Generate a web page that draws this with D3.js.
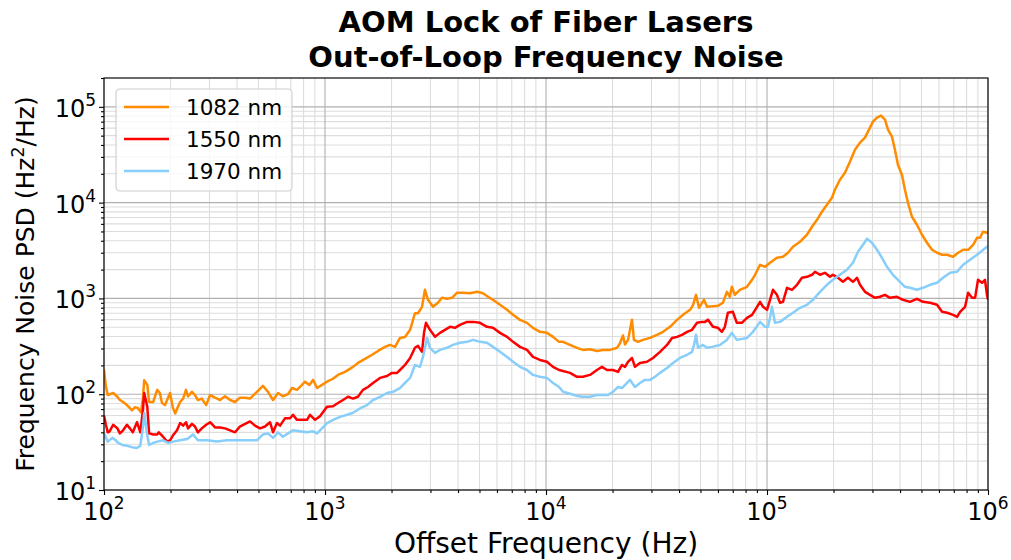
<!DOCTYPE html>
<html>
<head>
<meta charset="utf-8">
<script src="https://cdn.jsdelivr.net/npm/d3@7"></script>
<style>
  body { margin: 0; background: #fff; }
  svg { display: block; font-family: "DejaVu Sans", sans-serif; }
</style>
</head>
<body>
<svg id="chart" width="1011" height="560"></svg>
<script>
// Out-of-loop frequency noise PSD, [offset frequency (Hz), PSD (Hz^2/Hz)]
const series1082 = [
  [100, 180], [102, 120], [104, 98], [110, 103], [115, 94], [118, 87], [122, 83], [127, 77],
  [134, 68], [138, 73], [142, 72], [147, 65], [150, 90], [152, 140], [157, 125], [160, 83],
  [167, 83], [174, 111], [179, 103], [183, 81], [189, 77], [199, 103], [205, 72], [210, 63],
  [214, 70], [221, 83], [228, 90], [235, 111], [240, 95], [250, 106], [258, 98], [266, 87],
  [277, 90], [290, 77], [302, 98], [318, 92], [335, 87], [353, 95], [372, 87], [392, 83],
  [412, 92], [435, 92], [458, 90], [492, 106], [524, 122], [552, 106], [582, 87], [613, 103],
  [645, 95], [680, 100], [709, 116], [747, 111], [787, 125], [812, 135], [850, 125], [883, 141],
  [921, 116], [969, 125], [1021, 135], [1087, 145], [1145, 159], [1231, 171], [1339, 193],
  [1409, 212], [1517, 234], [1633, 258], [1738, 283], [1868, 312], [1968, 327], [2074, 312],
  [2184, 387], [2301, 395], [2427, 470], [2553, 700], [2636, 700], [2748, 817], [2833, 1230],
  [2924, 967], [3081, 817], [3245, 900], [3381, 1014], [3563, 990], [3755, 1014], [3954, 1145],
  [4209, 1145], [4533, 1130], [4875, 1172], [5186, 1130], [5465, 1040], [5754, 967], [6194, 858],
  [6664, 760], [7095, 674], [7627, 597], [8202, 556], [8730, 493], [9389, 448], [10100, 437],
  [10760, 397], [11460, 352], [11940, 352], [12840, 327], [13810, 305], [14700, 290], [15810, 295],
  [17000, 283], [18100, 290], [19480, 290], [20960, 305], [21620, 340], [22300, 410], [22770, 330],
  [23500, 369], [24490, 600], [25000, 369], [26080, 352], [27470, 369], [29560, 387], [31780, 417],
  [33840, 448], [36420, 505], [39170, 597], [41690, 674], [44860, 760], [46280, 850], [47740, 1090],
  [49240, 798], [51860, 967], [53500, 817], [56960, 830], [59980, 837], [63160, 900], [65830, 1172],
  [67900, 1040], [69320, 1322], [71510, 1090], [75340, 1230], [81200, 1322], [85560, 1564],
  [88310, 1765], [93040, 2244], [98000, 2138], [103200, 2355], [110900, 2655], [118100, 2720],
  [124400, 2995], [131100, 3461], [141000, 3900], [151600, 4620], [159800, 5600], [168400, 6621],
  [177300, 8035], [186700, 9505], [196700, 11250], [203000, 13640], [213800, 17350], [225300, 20530],
  [237300, 26750], [250000, 35700], [263500, 42290], [277600, 47660], [292400, 60640],
  [301700, 70040], [314500, 77130], [327900, 80930], [341900, 73500], [352700, 57790],
  [367700, 48830], [379300, 35700], [391300, 24890], [407900, 19570], [420900, 13640],
  [434300, 9975], [452800, 7121], [477100, 5877], [502700, 4620], [529700, 3811], [558100, 3220],
  [588100, 2995], [619600, 2855], [652900, 2855], [695100, 2720], [732400, 2995], [771600, 3220],
  [812800, 3220], [856000, 3631], [892100, 4296], [920300, 4296], [949200, 4966], [989300, 4847],
  [1000000, 5000]
];

const series1550 = [
  [100, 60], [102, 48], [104, 40], [106, 41], [110, 48], [115, 44], [118, 39], [122, 42],
  [127, 48], [131, 44], [135, 40], [141, 51], [146, 40], [150, 68], [152, 103], [157, 74],
  [160, 39], [167, 38], [174, 38], [177, 40], [185, 36], [193, 32], [199, 33], [205, 37],
  [214, 42], [221, 50], [228, 47], [235, 51], [240, 44], [250, 49], [258, 46], [266, 40],
  [277, 44], [290, 48], [302, 51], [318, 45], [335, 45], [353, 44], [372, 42], [392, 40],
  [412, 46], [435, 49], [458, 52], [482, 47], [508, 44], [535, 46], [564, 51], [582, 40],
  [606, 50], [626, 47], [659, 56], [695, 56], [716, 61], [747, 54], [787, 54], [829, 54],
  [855, 61], [902, 54], [949, 59], [1021, 74], [1087, 75], [1145, 81], [1206, 87], [1271, 94],
  [1339, 90], [1409, 94], [1485, 111], [1565, 119], [1649, 131], [1774, 148], [1908, 155],
  [2010, 167], [2118, 167], [2184, 179], [2301, 202], [2427, 239], [2553, 305], [2636, 320],
  [2748, 277], [2805, 437], [2864, 556], [2985, 470], [3148, 397], [3312, 437], [3489, 470],
  [3678, 505], [3873, 493], [4081, 530], [4393, 569], [4677, 569], [5027, 556], [5406, 505],
  [5754, 493], [6194, 437], [6664, 397], [7095, 352], [7627, 312], [8202, 290], [8730, 245],
  [9389, 228], [10100, 218], [10760, 193], [11460, 179], [12840, 167], [13810, 152], [14700, 152],
  [15810, 159], [17000, 179], [17920, 193], [18880, 179], [20100, 179], [21180, 171], [22070, 202],
  [22770, 193], [23500, 218], [24490, 239], [25270, 193], [26620, 212], [28640, 218], [30490, 239],
  [32800, 277], [35290, 327], [37180, 387], [39170, 397], [41240, 417], [43480, 448], [45800, 470],
  [48250, 556], [50800, 569], [52400, 569], [54060, 600], [56960, 505], [59980, 493], [62510, 448],
  [64480, 505], [66510, 708], [70040, 725], [73000, 556], [76910, 556], [81200, 627], [85560, 674],
  [90160, 817], [93040, 921], [95990, 817], [100000, 760], [103200, 967], [106400, 1230],
  [110900, 1090], [114500, 900], [118100, 921], [123200, 1291], [129700, 1230], [136700, 1387],
  [143900, 1641], [151600, 1681], [159800, 1765], [164900, 1897], [173700, 1765], [182900, 1850],
  [192700, 1681], [198800, 1765], [209500, 1641], [220600, 1490], [232400, 1641], [244900, 1490],
  [255400, 1641], [263500, 1387], [277600, 1172], [292400, 1090], [308000, 1014], [324600, 1040],
  [341900, 1090], [360100, 1014], [387300, 1040], [412200, 967], [443400, 921], [477100, 990],
  [507900, 921], [546600, 900], [588100, 858], [619600, 725], [652900, 708], [695100, 674],
  [724800, 642], [747800, 725], [787700, 817], [812800, 1145], [847100, 1014], [873900, 1014],
  [901400, 1564], [939500, 1456], [969100, 1564], [989300, 1090], [1000000, 967]
];

const series1970 = [
  [100, 39], [104, 32], [109, 35], [113, 33], [116, 31], [121, 29.5], [127, 29], [134, 28],
  [141, 27.5], [146, 29], [150, 45], [152, 64], [157, 37], [160, 29.5], [167, 31], [174, 32],
  [185, 33], [195, 31], [205, 32], [221, 33], [238, 34], [253, 38], [266, 33], [292, 33],
  [324, 32], [360, 33], [400, 33], [443, 33], [492, 33], [524, 38], [552, 39], [582, 35],
  [613, 40], [645, 36], [680, 39], [716, 42], [771, 41], [829, 40], [883, 41], [921, 39],
  [969, 44], [1021, 50], [1087, 54], [1169, 58], [1259, 61], [1339, 64], [1439, 71], [1549, 77],
  [1649, 87], [1774, 94], [1908, 103], [2031, 106], [2184, 116], [2301, 131], [2427, 148],
  [2553, 202], [2690, 193], [2775, 245], [2895, 387], [2985, 305], [3148, 270], [3312, 290],
  [3563, 305], [3793, 327], [4081, 344], [4393, 352], [4677, 369], [5027, 352], [5406, 344],
  [5754, 312], [6194, 277], [6664, 245], [7095, 218], [7627, 193], [8202, 179], [8730, 159],
  [9389, 152], [10100, 148], [10760, 131], [11460, 119], [11940, 106], [12840, 101], [13810, 96],
  [14700, 94], [15810, 94], [17000, 98], [18100, 98], [19080, 98], [20100, 106], [21180, 119],
  [22070, 116], [23260, 131], [23990, 141], [25270, 119], [26620, 131], [28050, 141], [29560, 141],
  [31130, 152], [32800, 167], [35290, 188], [37560, 212], [40390, 239], [43480, 258], [45800, 277],
  [46760, 327], [47740, 417], [48740, 305], [51320, 327], [53500, 305], [56370, 312], [61230, 327],
  [63160, 344], [65830, 369], [69320, 437], [73000, 369], [81200, 387], [86450, 448], [93040, 569],
  [98000, 505], [101000, 505], [103200, 627], [105300, 817], [108700, 556], [114500, 569],
  [123200, 642], [131100, 708], [141000, 798], [151600, 858], [161500, 967], [173700, 1172],
  [186700, 1387], [198800, 1564], [213800, 1765], [230000, 1991], [244900, 2355], [258000, 3069],
  [271900, 3631], [283400, 4197], [298500, 3811], [314500, 3220], [331300, 2655], [349100, 2138],
  [371500, 1765], [399500, 1490], [420900, 1322], [443400, 1291], [477100, 1230], [507900, 1291],
  [546600, 1387], [588100, 1456], [626100, 1641], [673700, 1850], [724800, 1897], [771600, 2244],
  [829800, 2530], [892100, 2855], [989300, 3461], [1000000, 3500]
];

const seriesNames = ["1082 nm", "1550 nm", "1970 nm"];
const seriesColors = ["#ff8c00", "#ff0000", "#87cefa"];
const xTickExps = [2, 3, 4, 5, 6];
const yTickExps = [1, 2, 3, 4, 5];

const margin = { top: 78, right: 23, bottom: 70, left: 104 };
const width = 1011 - margin.left - margin.right;
const height = 560 - margin.top - margin.bottom;

const svg = d3.select("#chart");

const x = d3.scaleLog().domain([1e2, 1e6]).range([0, width]);
const y = d3.scaleLog().domain([10, 2e5]).range([height, 0]);

const g = svg.append("g").attr("transform", `translate(${margin.left},${margin.top})`);

// minor and major values for log decades
function minorValues(lo, hi) {
  const out = [];
  for (let e = lo; e < hi; e++) {
    for (let m = 2; m <= 9; m++) out.push(m * Math.pow(10, e));
  }
  return out;
}
const xMajor = xTickExps.map((e) => Math.pow(10, e));
const yMajor = yTickExps.map((e) => Math.pow(10, e));
const xMinor = minorValues(2, 6);
const yMinor = minorValues(1, 6).filter((v) => v <= 2e5);

// grid
function vGrid(values, color) {
  g.append("g")
    .selectAll("line")
    .data(values)
    .join("line")
    .attr("x1", (d) => x(d)).attr("x2", (d) => x(d))
    .attr("y1", 0).attr("y2", height)
    .attr("stroke", color).attr("stroke-width", 1.1);
}
function hGrid(values, color) {
  g.append("g")
    .selectAll("line")
    .data(values)
    .join("line")
    .attr("y1", (d) => y(d)).attr("y2", (d) => y(d))
    .attr("x1", 0).attr("x2", width)
    .attr("stroke", color).attr("stroke-width", 1.1);
}
vGrid(xMinor, "#dddddd");
hGrid(yMinor, "#dddddd");
vGrid(xMajor, "#b0b0b0");
hGrid(yMajor, "#b0b0b0");

// data lines
g.append("clipPath").attr("id", "clip")
  .append("rect").attr("width", width).attr("height", height);

const line = d3.line()
  .x((d) => x(d[0]))
  .y((d) => y(d[1]));

const allSeries = [series1082, series1550, series1970];
g.append("g")
  .attr("clip-path", "url(#clip)")
  .selectAll("path")
  .data(allSeries)
  .join("path")
  .attr("d", line)
  .attr("fill", "none")
  .attr("stroke", (d, i) => seriesColors[i])
  .attr("stroke-width", 2.5)
  .attr("stroke-linejoin", "round");

// axes: ticks only, labels drawn with superscripts below
function styleAxis(sel) {
  sel.select(".domain").remove();
  sel.selectAll("line").attr("stroke", "#000").attr("stroke-width", 1.1);
  sel.selectAll("text").remove();
}
g.append("g").attr("transform", `translate(0,${height})`)
  .call(d3.axisBottom(x).tickValues(xMajor).tickSize(5)).call(styleAxis);
g.append("g").attr("transform", `translate(0,${height})`)
  .call(d3.axisBottom(x).tickValues(xMinor).tickSize(3)).call(styleAxis);
g.append("g")
  .call(d3.axisLeft(y).tickValues(yMajor).tickSize(5)).call(styleAxis);
g.append("g")
  .call(d3.axisLeft(y).tickValues(yMinor).tickSize(3)).call(styleAxis);

// frame
g.append("rect")
  .attr("width", width).attr("height", height)
  .attr("fill", "none").attr("stroke", "#000").attr("stroke-width", 1.1);

// tick labels 10^n
function powerLabel(sel, exp) {
  sel.append("tspan").text("10");
  sel.append("tspan").attr("font-size", 17).attr("dy", -11).text(exp);
}
g.append("g")
  .selectAll("text")
  .data(xTickExps)
  .join("text")
  .attr("x", (d) => x(Math.pow(10, d)))
  .attr("y", height + 30)
  .attr("text-anchor", "middle")
  .attr("font-size", 24)
  .attr("fill", "#000")
  .each(function (d) { powerLabel(d3.select(this), d); });

g.append("g")
  .selectAll("text")
  .data(yTickExps)
  .join("text")
  .attr("x", -8)
  .attr("y", (d) => y(Math.pow(10, d)) + 10)
  .attr("text-anchor", "end")
  .attr("font-size", 24)
  .attr("fill", "#000")
  .each(function (d) { powerLabel(d3.select(this), d); });

// axis titles
svg.append("text")
  .attr("x", margin.left + width / 2)
  .attr("y", 553)
  .attr("text-anchor", "middle")
  .attr("font-size", 28)
  .text("Offset Frequency (Hz)");

const yTitle = svg.append("text")
  .attr("transform", `translate(34,${margin.top + height / 2}) rotate(-90)`)
  .attr("text-anchor", "middle")
  .attr("font-size", 25);
yTitle.append("tspan").text("Frequency Noise PSD (Hz");
yTitle.append("tspan").attr("font-size", 17.5).attr("dy", -10).text("2");
yTitle.append("tspan").attr("dy", 10).text("/Hz)");

// title
const title = svg.append("text")
  .attr("text-anchor", "middle")
  .attr("font-size", 29)
  .attr("font-weight", "bold");
title.append("tspan").attr("x", margin.left + width / 2).attr("y", 32).text("AOM Lock of Fiber Lasers");
title.append("tspan").attr("x", margin.left + width / 2).attr("y", 67).text("Out-of-Loop Frequency Noise");

// legend
const legend = svg.append("g").attr("transform", "translate(116,89)");
legend.append("rect")
  .attr("width", 176).attr("height", 102)
  .attr("rx", 4)
  .attr("fill", "#fff").attr("fill-opacity", 0.8)
  .attr("stroke", "#cccccc").attr("stroke-width", 1.1);
const items = legend.selectAll("g.item")
  .data(seriesNames)
  .join("g")
  .attr("class", "item")
  .attr("transform", (d, i) => `translate(0,${18 + i * 32})`);
items.append("line")
  .attr("x1", 8).attr("x2", 53)
  .attr("stroke", (d, i) => seriesColors[i])
  .attr("stroke-width", 2.5);
items.append("text")
  .attr("x", 70).attr("y", 8)
  .attr("font-size", 21.5)
  .text((d) => d);
</script>
</body>
</html>
